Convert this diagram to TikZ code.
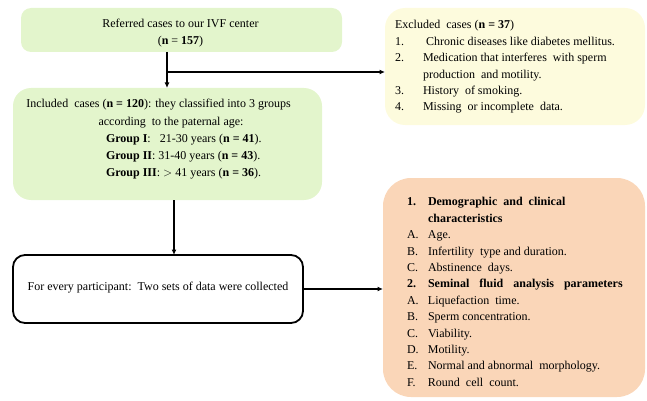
\documentclass[tikz,border=0pt]{standalone}
\usepackage{fontspec}
\setmainfont{Liberation Serif}
\usetikzlibrary{arrows.meta}
\definecolor{boxgreen}{HTML}{E3F5CC}
\definecolor{boxyellow}{HTML}{FDFBDD}
\definecolor{boxpeach}{HTML}{FAD6B8}
\tikzset{
  panel/.style={rectangle, inner sep=0pt, outer sep=0pt},
  txt/.style={inner sep=0pt, outer sep=0pt, font=\fontsize{12}{16.4}\selectfont},
  arr/.style={line width=1.3pt, -{Latex[length=5.5pt,width=5pt]}},
}
\begin{document}
\begin{tikzpicture}[x=1pt,y=-1pt]
\useasboundingbox (0,0) rectangle (647,401);
% boxes
\node[panel, fill=boxgreen, rounded corners=10pt, minimum width=321pt, minimum height=44pt] (b1) at (181.5,30) {};
\node[panel, fill=boxyellow, rounded corners=20pt, minimum width=260pt, minimum height=117pt] (b2) at (515,66.5) {};
\node[panel, fill=boxgreen, rounded corners=18pt, minimum width=309pt, minimum height=112pt] (b3) at (167.5,144) {};
\node[panel, draw=black, line width=1.8pt, fill=white, rounded corners=12pt, minimum width=290pt, minimum height=68pt] (b4) at (158,289) {};
\node[panel, fill=boxpeach, rounded corners=28pt, minimum width=262pt, minimum height=219pt] (b5) at (514,287.5) {};
% box 1 text
\node[txt] (t1a) at (180.5,23) {Referred cases to our IVF center};
\node[txt] (t1b) at (180.5,42) {(\textbf{n} = \textbf{157})};
% box 2 text
\node[txt, anchor=north west] (t2) at (395,17.5) {%
\begin{tabular}{@{}p{28pt}@{}l@{}}
\multicolumn{2}{@{}l@{}}{Excluded\ \ cases (\textbf{n = 37})}\\
1. & \ Chronic\ diseases like diabetes mellitus.\\
2. & Medication that interferes\ \ with sperm\\
   & production\ \ and motility.\\
3. & History\ \ of smoking.\\
4. & Missing\ \ or incomplete\ \ data.
\end{tabular}};
% box 3 text
\node[txt] (t3a) at (158.5,105) {Included\ \ cases (\textbf{n = 120}): they classified into 3 groups};
\node[txt] (t3b) at (171,123) {according\ \ to the paternal age:};
\node[txt, anchor=west] (t3c) at (106,140) {\textbf{Group I}:\ \ \ 21-30 years (\textbf{n = 41}).};
\node[txt, anchor=west] (t3d) at (106,157) {\textbf{Group II}: 31-40 years (\textbf{n = 43}).};
\node[txt, anchor=west] (t3e) at (106,174) {\textbf{Group III}: $>$ 41 years (\textbf{n = 36}).};
% box 4 text
\node[txt] (t4) at (158,288) {For every participant:\ \ Two sets of data were collected};
% box 5 text
\node[txt, anchor=north west] (t5) at (407,194.5) {%
\begin{tabular}{@{}p{21pt}@{}l@{}}
\textbf{1.} & \textbf{Demographic\ \ and\ \ clinical}\\
   & \textbf{characteristics}\\
A. & Age.\\
B. & Infertility\ \ type and duration.\\
C. & Abstinence\ \ days.\\
\textbf{2.} & {\spaceskip=10pt\textbf{Seminal fluid analysis parameters}}\\
A. & Liquefaction\ \ time.\\
B. & Sperm concentration.\\
C. & Viability.\\
D. & Motility.\\
E. & Normal and abnormal\ \ morphology.\\
F. & Round\ \ cell\ \ count.
\end{tabular}};
% connectors
\coordinate (j) at (167,72);
\coordinate (k) at (174,230);
\draw[arr] (b1.south -| j) -- (b3.north -| j);
\draw[arr] (j) -- (j -| b2.west);
\draw[arr] (b3.south -| k) -- (b4.north -| k);
\draw[arr] (b4.east) -- (b4.east -| b5.west);
\end{tikzpicture}
\end{document}
